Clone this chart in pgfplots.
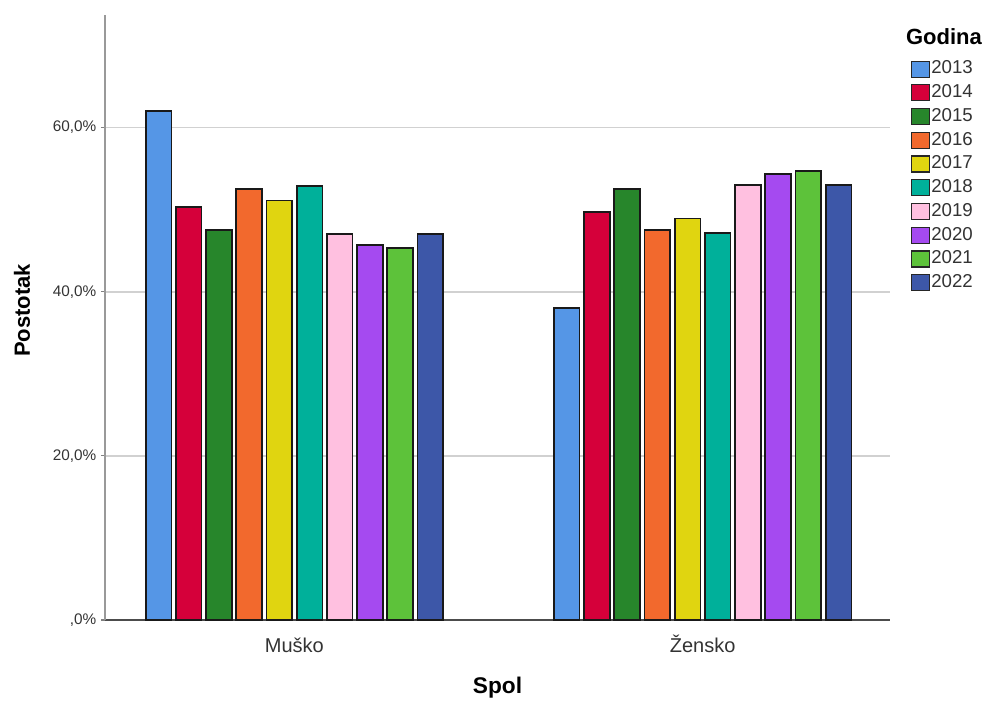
\documentclass[border=0pt]{standalone}
\usepackage{pgfplots}
\pgfplotsset{compat=1.18}
\usepackage{fontspec}
\setmainfont{Liberation Sans}
\definecolor{c13}{HTML}{5596E6}
\definecolor{c14}{HTML}{D5003A}
\definecolor{c15}{HTML}{27862B}
\definecolor{c16}{HTML}{F2692D}
\definecolor{c17}{HTML}{E0D510}
\definecolor{c18}{HTML}{00B09A}
\definecolor{c19}{HTML}{FFC0E0}
\definecolor{c20}{HTML}{A54AF0}
\definecolor{c21}{HTML}{5DC23A}
\definecolor{c22}{HTML}{3D57A8}
\definecolor{tickgray}{HTML}{333333}
\pgfplotsset{mybar/.style={fill=#1, draw=black!90, line width=1.3pt,
  legend image code/.code={\draw[fill=#1,draw=black!85,line width=0.9pt] (0pt,-5.6pt) rectangle (13.5pt,6.4pt);}}}
\begin{document}
\begin{tikzpicture}
\useasboundingbox (-78.75pt,-61.5pt) rectangle (659.25pt,465pt);
\begin{axis}[
  at={(0,0)}, anchor=south west,
  scale only axis, width=588.75pt, height=453.75pt,
  xmin=-0.464, xmax=1.459, ymin=0, ymax=73.7,
  clip=false,
  axis x line=bottom, axis y line=left,
  x axis line style={-, draw=black!70, line width=1.1pt},
  y axis line style={-, draw=black!40, line width=1.5pt},
  ytick={0,20,40,60},
  yticklabels={{,0\%},{20,0\%},{40,0\%},{60,0\%}},
  xtick={0,1}, xticklabels={Muško,Žensko},
  major x tick style={draw=none},
  ytick style={draw=black!50, line width=0.8pt},
  tick align=outside, major tick length=3pt,
  ymajorgrids, major grid style={draw=black!18, line width=1.4pt},
  yticklabel style={font=\fontsize{11.5}{13}\selectfont, text=tickgray},
  xticklabel style={font=\fontsize{15}{18}\selectfont, text=tickgray, text height=11pt, text depth=0pt, yshift=-6.5pt},
  ybar=3.35pt, bar width=19.3pt,
  ylabel={Postotak}, xlabel={Spol},
  ylabel style={at={(axis description cs:-0.1057,0.512)}, anchor=center, font=\bfseries\fontsize{16.5}{19}\selectfont},
  xlabel style={at={(axis description cs:0.5,-0.1124)}, anchor=center, font=\bfseries\fontsize{17}{20}\selectfont},
  legend style={at={(axis description cs:1.0264,0.9262)}, anchor=north west, draw=none, fill=none, inner sep=0pt,
    font=\fontsize{14}{16}\selectfont, text=tickgray, row sep=3.2pt,
    nodes={inner sep=0.8pt, text height=9.7pt, text depth=3.3pt}},
  legend cell align=left,
]
\addplot[mybar=c13] coordinates {(0,62.0) (1,38.0)};
\addlegendentry{2013}
\addplot[mybar=c14] coordinates {(0,50.3) (1,49.7)};
\addlegendentry{2014}
\addplot[mybar=c15] coordinates {(0,47.5) (1,52.5)};
\addlegendentry{2015}
\addplot[mybar=c16] coordinates {(0,52.5) (1,47.5)};
\addlegendentry{2016}
\addplot[mybar=c17] coordinates {(0,51.1) (1,48.9)};
\addlegendentry{2017}
\addplot[mybar=c18] coordinates {(0,52.9) (1,47.1)};
\addlegendentry{2018}
\addplot[mybar=c19] coordinates {(0,47.0) (1,53.0)};
\addlegendentry{2019}
\addplot[mybar=c20] coordinates {(0,45.7) (1,54.3)};
\addlegendentry{2020}
\addplot[mybar=c21] coordinates {(0,45.3) (1,54.7)};
\addlegendentry{2021}
\addplot[mybar=c22] coordinates {(0,47.0) (1,53.0)};
\addlegendentry{2022}
\node[font=\bfseries\fontsize{16.5}{19}\selectfont] at (axis description cs:1.0688,0.9641) {Godina};
\end{axis}
\end{tikzpicture}
\end{document}
